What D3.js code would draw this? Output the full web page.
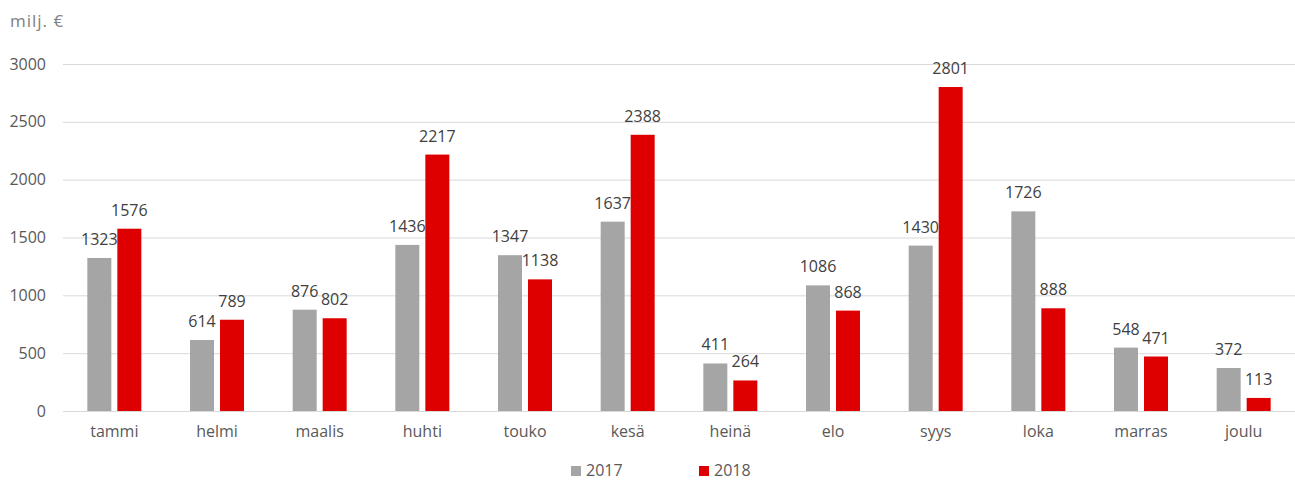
<!DOCTYPE html>
<html>
<head>
<meta charset="utf-8">
<script src="https://cdn.jsdelivr.net/npm/d3@7"></script>
<style>
  body { margin: 0; background: #fff; }
  svg text { font-family: "Open Sans", "Noto Sans", sans-serif; fill: #595959; }
</style>
</head>
<body>
<div id="chart"></div>
<script>
// Chart values
const MONTHS = ['tammi', 'helmi', 'maalis', 'huhti', 'touko', 'kesä', 'heinä', 'elo', 'syys', 'loka', 'marras', 'joulu'];
const SERIES = ['2017', '2018'];
const VALUES_2017 = [1323, 614, 876, 1436, 1347, 1637, 411, 1086, 1430, 1726, 548, 372];
const VALUES_2018 = [1576, 789, 802, 2217, 1138, 2388, 264, 868, 2801, 888, 471, 113];
const Y_TICKS = [0, 500, 1000, 1500, 2000, 2500, 3000];
const COLORS = ['#A5A5A5', '#DE0000'];

const WIDTH = 1295;
const HEIGHT = 482;
const MARGIN = { left: 63, right: 0, top: 64, bottom: 71 };
const FONT_SIZE = '16px';

const svg = d3.select('#chart')
  .append('svg')
  .attr('width', WIDTH)
  .attr('height', HEIGHT);

const xScale = d3.scaleBand()
  .domain(MONTHS)
  .range([MARGIN.left, WIDTH - MARGIN.right]);

// inner band for the two bars in each month
const groupWidth = 54;
const xInner = d3.scaleBand()
  .domain(SERIES)
  .range([0, groupWidth])
  .paddingInner(0.2);

const yScale = d3.scaleLinear()
  .domain([0, 3000])
  .range([HEIGHT - MARGIN.bottom, MARGIN.top]);

// y axis label
svg.append('text')
  .attr('x', 10)
  .attr('y', 27)
  .style('font-size', '17px')
  .style('letter-spacing', '1px')
  .style('fill', '#808080')
  .text('milj. €');

// gridlines + tick labels
const yAxis = d3.axisLeft(yScale)
  .tickValues(Y_TICKS)
  .tickFormat(d3.format('d'))
  .tickSize(-(WIDTH - MARGIN.left - MARGIN.right))
  .tickPadding(17);

svg.append('g')
  .attr('class', 'yAxis')
  .attr('transform', `translate(${MARGIN.left}, 0)`)
  .call(yAxis)
  .call(g => g.select('.domain').remove())
  .call(g => g.selectAll('.tick line').attr('stroke', '#D9D9D9').attr('stroke-width', 1))
  .call(g => g.selectAll('.tick text').style('font-size', FONT_SIZE).attr('fill', '#595959'));

// x axis labels
const xAxis = d3.axisBottom(xScale).tickSize(0).tickPadding(15);
svg.append('g')
  .attr('class', 'xAxis')
  .attr('transform', `translate(0, ${yScale(0)})`)
  .call(xAxis)
  .call(g => g.select('.domain').remove())
  .call(g => g.selectAll('.tick text').style('font-size', FONT_SIZE).attr('fill', '#595959'));

// bars
const rows = MONTHS.map((m, i) => ({
  month: m,
  values: [
    { series: SERIES[0], value: VALUES_2017[i], color: COLORS[0] },
    { series: SERIES[1], value: VALUES_2018[i], color: COLORS[1] }
  ]
}));

const groups = svg.selectAll('g.month')
  .data(rows)
  .join('g')
  .attr('class', 'month')
  .attr('transform', d => `translate(${xScale(d.month) + (xScale.bandwidth() - groupWidth) / 2}, 0)`);

groups.selectAll('rect')
  .data(d => d.values)
  .join('rect')
  .attr('x', d => xInner(d.series))
  .attr('width', xInner.bandwidth())
  .attr('y', d => yScale(d.value))
  .attr('height', d => yScale(0) - yScale(d.value))
  .attr('fill', d => d.color);

groups.selectAll('text.label')
  .data(d => d.values)
  .join('text')
  .attr('class', 'label')
  .attr('x', d => xInner(d.series) + xInner.bandwidth() / 2)
  .attr('y', d => yScale(d.value) - 13)
  .attr('text-anchor', 'middle')
  .style('font-size', FONT_SIZE)
  .style('fill', '#404040')
  .text(d => d.value);

// legend, kept just inside the bottom edge
const legend = svg.append('g')
  .attr('transform', `translate(571, 466)`);

const legendItems = legend.selectAll('g')
  .data(SERIES)
  .join('g')
  .attr('transform', (d, i) => `translate(${i * 128}, 0)`);

legendItems.append('rect')
  .attr('width', 10)
  .attr('height', 10)
  .attr('fill', (d, i) => COLORS[i]);

legendItems.append('text')
  .attr('x', 15)
  .attr('y', 10)
  .style('font-size', FONT_SIZE)
  .text(d => d);
</script>
</body>
</html>
